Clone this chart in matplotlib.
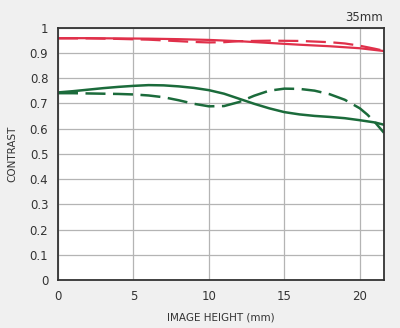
import matplotlib
matplotlib.use('Agg')
import matplotlib.pyplot as plt

# MTF data (image height in mm, contrast)
x_rs = [0, 2, 4, 6, 8, 10, 12, 14, 16, 18, 20, 21.6]
y_rs = [0.958, 0.958, 0.957, 0.956, 0.954, 0.951, 0.946, 0.939, 0.932, 0.926, 0.918, 0.907]

x_rd = [0, 2, 4, 6, 8, 9, 10, 11, 12, 14, 16, 18, 19, 20, 21, 21.6]
y_rd = [0.957, 0.957, 0.955, 0.952, 0.946, 0.943, 0.941, 0.942, 0.946, 0.948, 0.947, 0.942, 0.937, 0.928, 0.916, 0.908]

x_gs = [0, 1, 2, 3, 4, 5, 6, 7, 8, 9, 10, 11, 12, 13, 14, 15, 16, 17, 18, 19, 20, 21, 21.6]
y_gs = [0.743, 0.748, 0.754, 0.760, 0.765, 0.769, 0.772, 0.771, 0.767, 0.761, 0.752, 0.738, 0.718,
        0.698, 0.680, 0.665, 0.656, 0.650, 0.646, 0.641, 0.633, 0.624, 0.615]

x_gd = [0, 1, 2, 3, 4, 5, 6, 7, 8, 9, 10, 11, 12, 13, 14, 15, 16, 17, 18, 19, 20, 20.5, 21, 21.6]
y_gd = [0.740, 0.740, 0.739, 0.738, 0.737, 0.735, 0.731, 0.724, 0.712, 0.698, 0.688, 0.689, 0.705,
        0.730, 0.750, 0.758, 0.757, 0.750, 0.736, 0.714, 0.680, 0.655, 0.625, 0.583]

xticks = [0, 5, 10, 15, 20]
yticks = [0, 0.1, 0.2, 0.3, 0.4, 0.5, 0.6, 0.7, 0.8, 0.9, 1]
ytick_labels = ['0', '0.1', '0.2', '0.3', '0.4', '0.5', '0.6', '0.7', '0.8', '0.9', '1']

rojo = '#e0304a'
verde = '#1b6b3b'

fig = plt.figure(figsize=(4, 3.28), dpi=100, facecolor='#f0f0f0')
ax = fig.add_axes([0.145, 0.1463, 0.815, 0.7697])
ax.set_facecolor('white')

ax.plot(x_rs, y_rs, color=rojo, lw=1.6)
ax.plot(x_rd, y_rd, color=rojo, lw=1.6, dashes=(9, 3.4))
ax.plot(x_gs, y_gs, color=verde, lw=1.8)
ax.plot(x_gd, y_gd, color=verde, lw=1.8, dashes=(8, 3))

ax.set_xlim(0, 21.6)
ax.set_ylim(0, 1)
ax.set_xticks(xticks)
ax.set_yticks(yticks)
ax.set_yticklabels(ytick_labels)
ax.grid(True, color='#b4b4b4', lw=0.9)
ax.set_axisbelow(True)
ax.tick_params(length=0, labelsize=8.5, colors='#333333', pad=7)

for s in ax.spines.values():
    s.set_color('#333333')
    s.set_linewidth(1.3)

ax.set_xlabel('IMAGE HEIGHT (mm)', fontsize=7.5, color='#333333', labelpad=7)
ax.set_ylabel('CONTRAST', fontsize=7.5, color='#333333', labelpad=9)
fig.text(0.958, 0.948, '35mm', ha='right', va='center', fontsize=8.5, color='#333333')

plt.savefig('out.png', dpi=100, facecolor=fig.get_facecolor())
